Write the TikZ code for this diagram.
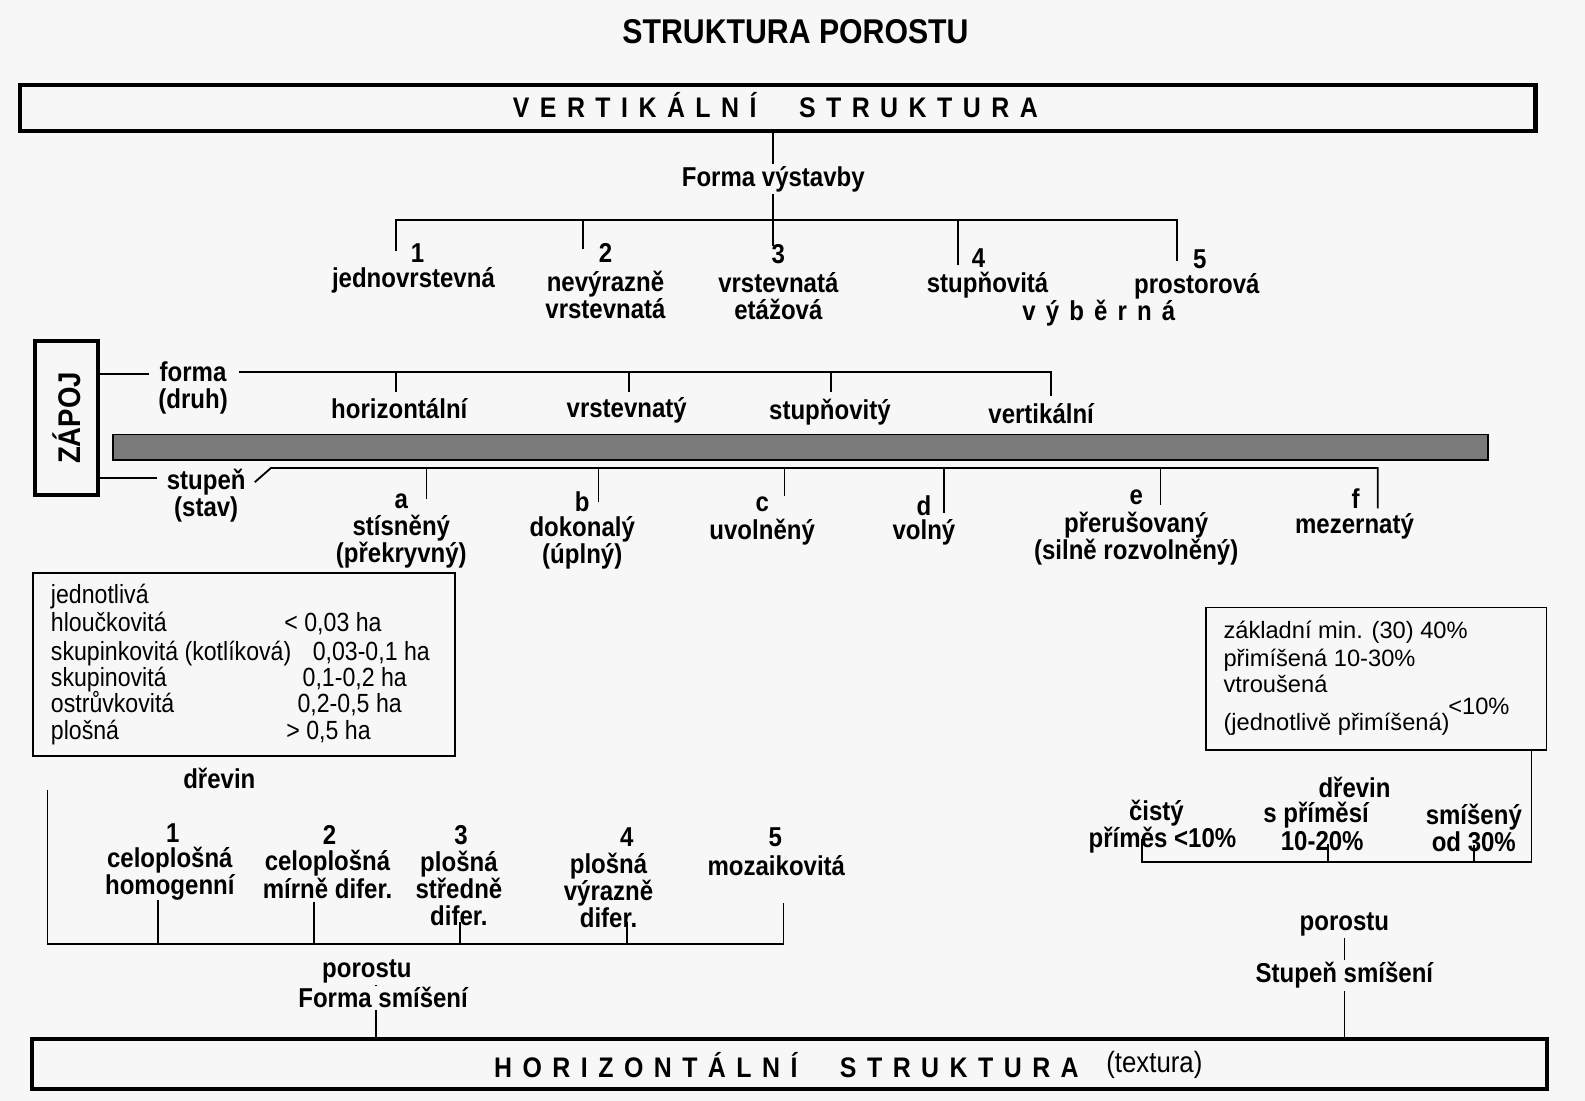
\documentclass[tikz,border=0pt]{standalone}
\usepackage{fontspec}
\usepackage{graphicx}
\setmainfont{Liberation Sans}[FakeStretch=0.88]
\newfontfamily\plainfont{Liberation Sans}
\usetikzlibrary{calc}
\makeatletter
\newcommand\spaced[1]{\@tfor\spch:=#1\do{\spch\hskip0.37em}\unskip}
\makeatother
\tikzset{
  lbl/.style={font=\bfseries\fontsize{13.5}{13.5}\selectfont,inner sep=1pt,align=center},
  txt/.style={font=\fontsize{13}{13.5}\selectfont,inner sep=1pt,anchor=base west},
  rtxt/.style={font=\plainfont\fontsize{11.7}{13}\selectfont,inner sep=1pt,anchor=base west},
  conn/.style={line width=0.9pt},
  bigbox/.style={draw,line width=2pt,inner sep=0pt},
  thinbox/.style={draw,line width=1pt,inner sep=0pt},
  headtxt/.style={font=\bfseries\fontsize{14}{15}\selectfont,inner sep=1pt},
}

\begin{document}
\begin{tikzpicture}[x=0.5pt,y=-0.5pt]
        \fill[black!3] (0,0) rectangle (1568,1089);
        \useasboundingbox (0,0) rectangle (1568,1089);

        \node[lbl,font=\bfseries\fontsize{17}{18}\selectfont] (title) at (787,31) {STRUKTURA POROSTU};

        % vertikalni struktura
        \node[bigbox,minimum width=749.5pt,minimum height=23pt] (vbox) at (769.5,107) {};
        \node[headtxt] (vtext) at (767,104) {\spaced{VERTIKÁLNÍ}\hskip1.5em\spaced{STRUKTURA}};
        \node[lbl] (fvys) at (765,177) {Forma výstavby};

        \coordinate (vb) at (392,218);
        \coordinate (t1) at (392,248);
        \coordinate (t2) at (577,246);
        \coordinate (t3) at (765,243);
        \coordinate (t4) at (948,262);
        \coordinate (t5) at (1164,258);
        \draw[conn] (fvys.north |- vbox.south) -- (fvys.north);
        \draw[conn] (fvys.south) -- (t3);
        \draw[conn] (t1) |- (t5 |- vb) -- (t5);
        \draw[conn] (t2 |- vb) -- (t2);
        \draw[conn] (t4 |- vb) -- (t4);

        \node[lbl] (n1) at (413,250) {1};
        \node[lbl] (v1) at (409,277) {jednovrstevná};
        \node[lbl] (n2) at (599,250) {2};
        \node[lbl] (v2) at (599,292) {nevýrazně\\vrstevnatá};
        \node[lbl] (n3) at (770,251) {3};
        \node[lbl] (v3) at (770,293) {vrstevnatá\\etážová};
        \node[lbl] (n4) at (968,255) {4};
        \node[lbl] (v4) at (977,282) {stupňovitá};
        \node[lbl] (n5) at (1187,256) {5};
        \node[lbl] (v5) at (1184,283) {prostorová};
        \node[lbl] (vyb) at (1087,310) {\spaced{výběrná}};

        % zapoj
        \node[bigbox,minimum width=31pt,minimum height=76.5pt] (zapoj) at (66,413.5)
            {\rotatebox{90}{\bfseries\fontsize{15.5}{15.5}\selectfont ZÁPOJ}};
        \node[lbl] (fdruh) at (191,384) {forma\\(druh)};
        \coordinate (zf) at (147,370);
        \draw[conn] (zf -| zapoj.east) -- (zf);
        \coordinate (fb) at (236,368);
        \coordinate (h1) at (392,388);
        \coordinate (h2) at (622,388);
        \coordinate (h3) at (822,388);
        \coordinate (h4) at (1040,392);
        \draw[conn] (fb) -| (h4);
        \draw[conn] (h1 |- fb) -- (h1);
        \draw[conn] (h2 |- fb) -- (h2);
        \draw[conn] (h3 |- fb) -- (h3);
        \node[lbl] (f1) at (395,404) {horizontální};
        \node[lbl] (f2) at (620,406) {vrstevnatý};
        \node[lbl] (f3) at (821,408) {stupňovitý};
        \node[lbl] (f4) at (1030,409) {vertikální};

        \draw[line width=0.8pt,fill=black!52] (112,430) rectangle (1472,455);

        \node[lbl] (sstav) at (204,490) {stupeň\\(stav)};
        \coordinate (zs) at (155,473);
        \draw[conn] (zs -| zapoj.east) -- (zs);
        \coordinate (sdg) at (252,477);
        \coordinate (sbr) at (268,463);
        \coordinate (d1) at (422,494);
        \coordinate (d2) at (592,497);
        \coordinate (d3) at (776,491);
        \coordinate (d4) at (934,507);
        \coordinate (d5) at (1148,500);
        \coordinate (d6) at (1363,503);
        \draw[conn] (sdg) -- (sbr) -| (d6);
        \draw[conn] (d1 |- sbr) -- (d1);
        \draw[conn] (d2 |- sbr) -- (d2);
        \draw[conn] (d3 |- sbr) -- (d3);
        \draw[conn] (d4 |- sbr) -- (d4);
        \draw[conn] (d5 |- sbr) -- (d5);

        \node[lbl] (la) at (397,496) {a};
        \node[lbl] (za) at (397,536) {stísněný\\(překryvný)};
        \node[lbl] (lb) at (576,496) {b};
        \node[lbl] (zb) at (576,537) {dokonalý\\(úplný)};
        \node[lbl] (lc) at (754,499) {c};
        \node[lbl] (zc) at (754,526) {uvolněný};
        \node[lbl] (ld) at (914,500) {d};
        \node[lbl] (zd) at (914,527) {volný};
        \node[lbl] (le) at (1124,492) {e};
        \node[lbl] (ze) at (1124,533) {přerušovaný\\(silně rozvolněný)};
        \node[lbl] (lf) at (1341,493) {f};
        \node[lbl] (zf2) at (1340,521) {mezernatý};

        % forma smiseni
        \node[thinbox,minimum width=208.5pt,minimum height=90.5pt] (mbox) at (241.5,657.5) {};
        \node[txt] (m1) at (48,597) {jednotlivá};
        \node[txt] (m2) at (48,625) {hloučkovitá};
        \node[txt] (m3) at (48,653) {skupinkovitá (kotlíková)};
        \node[txt] (m4) at (48,679) {skupinovitá};
        \node[txt] (m5) at (48,705) {ostrůvkovitá};
        \node[txt] (m6) at (48,732) {plošná};
        \node[txt] (a2) at (279,625) {< 0,03 ha};
        \node[txt] (a3) at (307,653) {0,03-0,1 ha};
        \node[txt] (a4) at (297,679) {0,1-0,2 ha};
        \node[txt] (a5) at (292,705) {0,2-0,5 ha};
        \node[txt] (a6) at (281,732) {> 0,5 ha};

        \node[lbl] (drv1) at (217,770) {dřevin};
        \coordinate (ft) at (47,782);
        \coordinate (fbt) at (47,934);
        \coordinate (p1) at (156,890);
        \coordinate (p2) at (311,892);
        \coordinate (p3) at (455,912);
        \coordinate (p4) at (620,912);
        \coordinate (p5) at (775,893);
        \draw[conn] (ft) -- (fbt) -| (p5);
        \draw[conn] (p1 |- fbt) -- (p1);
        \draw[conn] (p2 |- fbt) -- (p2);
        \draw[conn] (p3 |- fbt) -- (p3);
        \draw[conn] (p4 |- fbt) -- (p4);

        \node[lbl] (k1) at (171,824) {1};
        \node[lbl] (c1) at (168,864) {celoplošná\\homogenní};
        \node[lbl] (k2) at (326,826) {2};
        \node[lbl] (c2) at (324,865) {celoplošná\\mírně difer.};
        \node[lbl] (k3) at (456,826) {3};
        \node[lbl] (c3) at (454,879) {plošná\\středně\\difer.};
        \node[lbl] (k4) at (620,828) {4};
        \node[lbl] (c4) at (602,881) {plošná\\výrazně\\difer.};
        \node[lbl] (k5) at (767,828) {5};
        \node[lbl] (c5) at (768,856) {mozaikovitá};

        % horizontalni struktura
        \node[bigbox,minimum width=749pt,minimum height=24.5pt] (hbox) at (781,1052.5) {};
        \node[headtxt] (htext) at (778,1054) {\spaced{HORIZONTÁLNÍ}\hskip1.5em\spaced{STRUKTURA}};
        \node[inner sep=1pt,font=\fontsize{14.5}{15}\selectfont] (htex) at (1142,1053) {(textura)};

        \node[lbl] (por1) at (363,961) {porostu};
        \node[lbl] (fsm) at (379,987) {Forma smíšení};
        \coordinate (fx) at (372,1000);
        \draw[conn] (fx |- hbox.north) -- (fx |- fsm.south);
        \draw[conn] (fx |- fsm.north) -- (fx |- por1.south);

        % stupen smiseni
        \node[thinbox,line width=0.8pt,minimum width=168.5pt,minimum height=70.5pt] (rbox) at (1361.5,671.5) {};
        \node[rtxt] (r1) at (1208,632) {základní min. (30) 40\%};
        \node[rtxt] (r2) at (1208,659) {přimíšená 10-30\%};
        \node[rtxt] (r3) at (1208,685) {vtroušená};
        \node[rtxt] (r4) at (1208,723) {(jednotlivě přimíšená)};
        \node[rtxt,anchor=base] (r5) at (1463,707) {<10\%};

        \node[lbl] (drv2) at (1340,779) {dřevin};
        \coordinate (sc) at (1515,853);
        \coordinate (s1) at (1130,830);
        \coordinate (s2) at (1314,835);
        \coordinate (s3) at (1458,836);
        \draw[conn] (sc |- rbox.south) -- (sc) -| (s1);
        \draw[conn] (s2 |- sc) -- (s2);
        \draw[conn] (s3 |- sc) -- (s3);
        \node[lbl] (q1) at (1144,804) {čistý};
        \node[lbl] (q2) at (1150,831) {příměs <10\%};
        \node[lbl] (q3) at (1302,806) {s příměsí};
        \node[lbl] (q4) at (1308,832) {10-20\%};
        \node[lbl] (q5) at (1458,808) {smíšený};
        \node[lbl] (q6) at (1458,833) {od 30\%};

        \node[lbl] (por2) at (1330,914) {porostu};
        \node[lbl] (ssm) at (1330,965) {Stupeň smíšení};
        \draw[conn] (ssm.north) -- (por2.south);
        \draw[conn] (ssm.south |- hbox.north) -- (ssm.south);
\end{tikzpicture}
\end{document}
